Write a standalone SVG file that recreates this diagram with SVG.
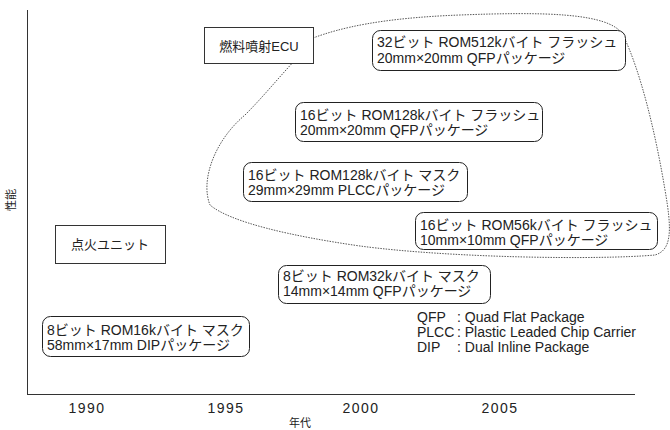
<svg xmlns="http://www.w3.org/2000/svg" width="670" height="430" viewBox="0 0 670 430">
<style>
text{font-family:"Liberation Sans","Noto Sans CJK JP",sans-serif;fill:#222}
.lb{font-size:14px}
.yr{font-size:14px;text-anchor:middle;letter-spacing:1.5px}
.ax{stroke:#333;stroke-width:1;fill:none}
.rb{fill:#fff;stroke:#222;stroke-width:1}
.sq{fill:#fff;stroke:#333;stroke-width:1}
.dot{fill:none;stroke:#444;stroke-width:0.9;stroke-dasharray:1.5 1.2}
.lg{font-size:14px}
</style>
<rect width="670" height="430" fill="#fff"/>
<g id="axes">
<line class="ax" x1="27.5" y1="10" x2="27.5" y2="394"/>
<line class="ax" x1="27" y1="394.5" x2="635" y2="394.5"/>
<text class="yr" x="87" y="413">1990</text>
<text class="yr" x="226" y="413">1995</text>
<text class="yr" x="361" y="413">2000</text>
<text class="yr" x="500" y="413">2005</text>
<text x="300" y="427" font-size="11" text-anchor="middle">年代</text>
<text x="0" y="0" font-size="11" text-anchor="middle" transform="translate(15,200) rotate(-90)">性能</text>
</g>
<g id="connectors">
<path class="dot" d="M313,38 C340,28 380,18 460,15 C540,12 610,12 623,35 C640,70 655,130 665,190 C672,230 672,250 655,255 C600,260 450,258 360,246 C290,236 230,222 210,205 C200,180 215,140 245,115 C265,95 285,70 300,55 Z"/>
</g>
<g id="ecu">
<rect class="sq" x="204.5" y="27.5" width="109" height="36"/>
<text x="259" y="51" font-size="13" text-anchor="middle">燃料噴射ECU</text>
</g>
<g id="ignition">
<rect class="sq" x="55.5" y="225.5" width="110" height="38"/>
<text x="110" y="249" font-size="13" text-anchor="middle">点火ユニット</text>
</g>
<g id="n32">
<rect class="rb" x="372.5" y="30.5" width="253" height="40" rx="8"/>
<text class="lb"><tspan x="377" y="47">32ビット ROM512kバイト フラッシュ</tspan><tspan x="377" y="63">20mm×20mm QFPパッケージ</tspan></text>
</g>
<g id="n16f">
<rect class="rb" x="295.5" y="102.5" width="247" height="39" rx="8"/>
<text class="lb"><tspan x="300" y="120">16ビット ROM128kバイト フラッシュ</tspan><tspan x="300" y="135">20mm×20mm QFPパッケージ</tspan></text>
</g>
<g id="n16m">
<rect class="rb" x="243.5" y="162.5" width="224" height="39" rx="8"/>
<text class="lb"><tspan x="248" y="180">16ビット ROM128kバイト マスク</tspan><tspan x="248" y="195">29mm×29mm PLCCパッケージ</tspan></text>
</g>
<g id="n16s">
<rect class="rb" x="415.5" y="212.5" width="242" height="37" rx="8"/>
<text class="lb"><tspan x="420" y="230">16ビット ROM56kバイト フラッシュ</tspan><tspan x="420" y="245">10mm×10mm QFPパッケージ</tspan></text>
</g>
<g id="n8q">
<rect class="rb" x="278.5" y="265.5" width="212" height="38" rx="8"/>
<text class="lb"><tspan x="283" y="281">8ビット ROM32kバイト マスク</tspan><tspan x="283" y="296">14mm×14mm QFPパッケージ</tspan></text>
</g>
<g id="n8d">
<rect class="rb" x="42.5" y="316.5" width="207" height="40" rx="8"/>
<text class="lb"><tspan x="47" y="335">8ビット ROM16kバイト マスク</tspan><tspan x="47" y="350">58mm×17mm DIPパッケージ</tspan></text>
</g>
<g id="legend">
<text class="lg"><tspan x="417" y="322">QFP</tspan><tspan x="457" y="322">: Quad Flat Package</tspan><tspan x="417" y="337">PLCC</tspan><tspan x="457" y="337">: Plastic Leaded Chip Carrier</tspan><tspan x="417" y="352">DIP</tspan><tspan x="457" y="352">: Dual Inline Package</tspan></text>
</g>
</svg>
